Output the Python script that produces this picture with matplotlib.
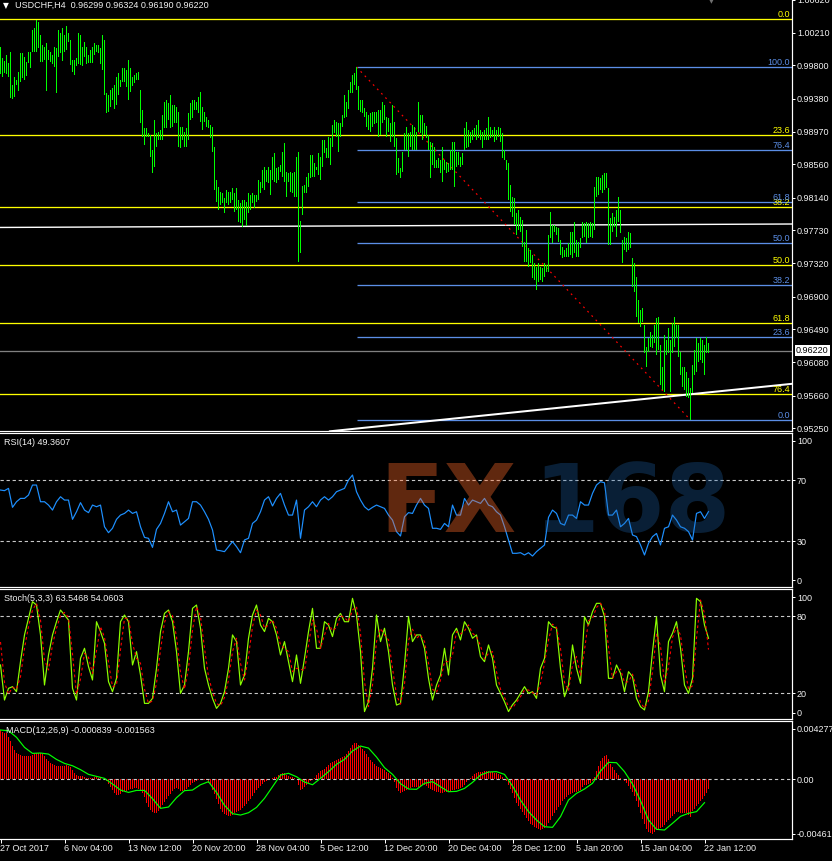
import numpy as np
import matplotlib
matplotlib.use('Agg')
import matplotlib.pyplot as plt
import matplotlib.transforms as mtrans
from matplotlib import font_manager

# ---------------- data ----------------
price_high = [
1.00035,0.99889,0.99855,0.99930,0.99826,0.99972,0.99554,0.99659,0.99617,0.99721,
0.99951,0.99951,0.99909,0.99847,0.99972,0.99972,1.00244,1.00265,1.00369,1.00348,
1.00181,1.00056,1.00035,1.00077,0.99993,0.99972,0.99930,1.00035,1.00014,1.00244,
1.00202,1.00265,1.00181,1.00294,1.00202,1.00118,0.99868,0.99868,0.99889,1.00202,
1.00181,1.00035,1.00098,1.00035,0.99930,0.99993,1.00035,1.00077,1.00056,1.00056,
1.00014,1.00181,1.00118,0.99450,0.99429,0.99491,0.99512,0.99554,0.99659,0.99700,
0.99617,0.99763,0.99763,0.99742,0.99868,0.99763,0.99659,0.99680,0.99700,0.99721,
0.99491,0.99241,0.99011,0.99011,0.98948,0.98927,0.98739,0.99115,0.98948,0.98969,
0.98990,0.99178,0.99345,0.99366,0.99324,0.99429,0.99303,0.99303,0.99282,0.99220,
0.99032,0.99032,0.98969,0.99011,0.99199,0.99324,0.99366,0.99366,0.99345,0.99408,
0.99471,0.99282,0.99220,0.99157,0.99115,0.99053,0.99032,0.98781,0.98363,0.98279,
0.98217,0.98196,0.98133,0.98237,0.98217,0.98217,0.98258,0.98196,0.98258,0.98112,
0.98070,0.98112,0.98112,0.98091,0.98196,0.98175,0.98196,0.98175,0.98175,0.98363,
0.98342,0.98488,0.98530,0.98488,0.98530,0.98488,0.98655,0.98697,0.98509,0.98530,
0.98551,0.98718,0.98823,0.98467,0.98446,0.98467,0.98446,0.98467,0.98655,0.98718,
0.97853,0.98288,0.98300,0.98405,0.98446,0.98676,0.98676,0.98572,0.98530,0.98697,
0.98655,0.98864,0.98864,0.98760,0.98906,0.98885,0.99053,0.99115,0.99094,0.99073,
0.99073,0.99178,0.99429,0.99345,0.99491,
0.99596,0.99680,0.99700,0.99776,0.99542,0.99366,0.99366,0.99262,0.99220,0.99178,
0.99199,0.99220,0.99220,0.99220,0.99241,0.99241,0.99345,0.99303,0.99157,0.99136,
0.99073,0.99303,0.99094,0.98885,0.98635,0.98509,0.98718,0.98948,0.99032,0.98948,
0.98969,0.99053,0.99032,0.98969,0.99345,0.99178,0.99178,0.99073,0.99040,0.98927,
0.98844,0.98823,0.98781,0.98614,0.98635,0.98614,0.98781,0.98614,0.98593,0.98572,
0.98739,0.98844,0.98844,0.98718,0.98718,0.98655,0.98697,0.99011,0.99094,0.98990,
0.98969,0.98990,0.99011,0.99053,0.99115,0.98990,0.98969,0.98990,0.99011,0.99157,
0.99032,0.98990,0.99032,0.98990,0.99032,0.99011,0.98948,0.98739,0.98614,0.98572,
0.98300,0.98154,0.98133,0.97945,0.97987,0.97903,0.97861,0.97590,0.97736,0.97506,
0.97485,0.97422,0.97318,0.97276,0.97318,0.97276,0.97255,0.97318,0.97297,0.97673,
0.97966,0.97799,0.97799,0.97778,0.97757,0.97610,0.97527,0.97485,0.97506,0.97569,
0.97715,0.97715,0.97840,0.97610,0.97590,0.97631,0.97840,0.97819,0.97840,0.97819,
0.97840,0.97819,0.98279,0.98405,0.98405,0.98384,0.98426,0.98446,0.98446,0.98258,
0.97882,0.97945,0.97903,0.97987,0.98154,0.97987,0.97610,0.97652,0.97631,0.97715,
0.97694,0.97381,0.97318,0.97151,0.96858,0.96733,0.96754,0.96545,0.96273,0.96377,
0.96461,0.96419,0.96545,0.96628,0.96649,0.96294,0.96022,0.96419,0.96356,0.96503,
0.96356,0.96565,0.96649,0.96545,0.96545,0.96210,0.96022,0.96022,0.95959,0.95876,
0.95750,0.96043,0.96231,0.96377,0.96315,
0.96378,0.96357,0.96294,0.96391,0.96324]

price_low = [
0.99692,0.99650,0.99700,0.99692,0.99659,0.99387,0.99379,0.99408,0.99554,0.99483,
0.99596,0.99638,0.99617,0.99671,0.99826,0.99763,0.99972,0.99972,0.99972,1.00014,
0.99847,0.99847,0.99868,0.99483,0.99868,0.99847,0.99817,0.99784,0.99458,0.99909,
0.99951,0.99855,0.99972,0.99993,1.00098,0.99805,0.99721,0.99680,0.99792,0.99813,
0.99805,0.99797,0.99909,0.99813,0.99826,0.99826,0.99826,0.99930,0.99972,0.99951,
0.99813,0.99742,0.99429,0.99207,0.99220,0.99282,0.99366,0.99249,0.99303,0.99429,
0.99525,0.99596,0.99596,0.99533,0.99366,0.99471,0.99542,0.99575,0.99617,0.99617,
0.99073,0.98906,0.98802,0.98906,0.98906,0.98655,0.98455,0.98530,0.98781,0.98864,
0.98864,0.98864,0.99011,0.99011,0.99115,0.99011,0.99032,0.99073,0.99073,0.98781,
0.98760,0.98864,0.98781,0.98781,0.98864,0.99115,0.99136,0.99241,0.99241,0.99199,
0.99094,0.98990,0.99094,0.99032,0.99011,0.98885,0.98718,0.98237,0.98091,0.97987,
0.98049,0.98070,0.97945,0.98070,0.98049,0.98070,0.98112,0.97966,0.97987,0.97840,
0.97819,0.97778,0.97861,0.97786,0.97945,0.97987,0.98070,0.98008,0.98091,0.98112,
0.98204,0.98258,0.98237,0.98342,0.98321,0.98175,0.98363,0.98342,0.98321,0.98363,
0.98467,0.98405,0.98342,0.98154,0.98342,0.98217,0.98196,0.98154,0.98154,0.97339,
0.97443,0.97924,0.98196,0.98196,0.98279,0.98384,0.98405,0.98405,0.98488,0.98426,
0.98363,0.98530,0.98697,0.98635,0.98635,0.98551,0.98781,0.98948,0.98906,0.98718,
0.98906,0.99032,0.99136,0.99157,0.99250,
0.99450,0.99450,0.99554,0.99491,0.99241,0.99220,0.99199,0.99157,0.99032,0.98990,
0.98969,0.99032,0.99065,0.99073,0.98898,0.98927,0.99073,0.99115,0.98898,0.98969,
0.98844,0.98906,0.98781,0.98426,0.98446,0.98384,0.98467,0.98739,0.98739,0.98655,
0.98781,0.98739,0.98739,0.98739,0.98969,0.98948,0.98864,0.98927,0.98885,0.98739,
0.98384,0.98551,0.98509,0.98509,0.98509,0.98446,0.98342,0.98488,0.98446,0.98467,
0.98488,0.98488,0.98279,0.98530,0.98551,0.98530,0.98551,0.98739,0.98760,0.98781,
0.98823,0.98864,0.98906,0.98864,0.98885,0.98864,0.98760,0.98864,0.98864,0.98864,
0.98885,0.98906,0.98844,0.98864,0.98906,0.98844,0.98635,0.98614,0.98488,0.98112,
0.97966,0.97903,0.97799,0.97673,0.97736,0.97715,0.97527,0.97339,0.97339,0.97276,
0.97318,0.97130,0.97109,0.96983,0.97088,0.97109,0.97088,0.97151,0.97213,0.97213,
0.97631,0.97569,0.97715,0.97673,0.97590,0.97422,0.97381,0.97401,0.97401,0.97401,
0.97422,0.97381,0.97443,0.97401,0.97401,0.97506,0.97631,0.97652,0.97569,0.97631,
0.97652,0.97631,0.97736,0.98154,0.98175,0.98237,0.98196,0.98237,0.98258,0.97548,
0.97548,0.97715,0.97778,0.97652,0.97840,0.97694,0.97318,0.97485,0.97464,0.97485,
0.97506,0.97025,0.96963,0.96649,0.96565,0.96524,0.96586,0.96189,0.96022,0.96210,
0.96273,0.96252,0.96315,0.96168,0.96231,0.95792,0.95729,0.95709,0.96168,0.96189,
0.95709,0.96189,0.96273,0.96377,0.96147,0.95918,0.95771,0.95729,0.95646,0.95625,
0.95353,0.95688,0.95918,0.95959,0.96085,
0.96106,0.96065,0.95918,0.96190,0.96190]

time_labels = ["27 Oct 2017", "6 Nov 04:00", "13 Nov 12:00", "20 Nov 20:00",
               "28 Nov 04:00", "5 Dec 12:00", "12 Dec 20:00", "20 Dec 04:00",
               "28 Dec 12:00", "5 Jan 20:00", "15 Jan 04:00", "22 Jan 12:00"]
price_ticks = [1.00620, 1.00210, 0.99800, 0.99380, 0.98970, 0.98560, 0.98140,
               0.97730, 0.97320, 0.96900, 0.96490, 0.96080, 0.95660, 0.95250]
last_price = 0.96220

# Fibonacci retracements (anchors) and levels
fib_yellow_0 = 1.00382
fib_yellow_100 = 0.94219
fib_yellow_levels = [0.0, 23.6, 38.2, 50.0, 61.8, 76.4]
fib_blue_high = 0.99780
fib_blue_low = 0.95354
fib_blue_start_bar = 178
fib_blue_end_bar = 345
fib_blue_levels = [100.0, 76.4, 61.8, 50.0, 38.2, 23.6, 0.0]

# trend lines (bar index, price)
trend_upper = [(0, 0.97768), (330, 0.97804)]
trend_lower = [(167.8, 0.95220), (349.8, 0.95689)]

rsi = [63.6,63.2,64.7,52.2,55.9,58.1,58.1,60.3,66.9,66.9,
55.9,55.9,53.7,50.4,55.9,59.2,57.0,57.0,44.3,49.3,
55.3,50.4,48.7,53.7,52.6,53.7,39.4,35.5,38.4,44.3,
47.1,48.2,50.4,48.2,49.3,39.4,32.4,31.8,25.8,37.7,
41.6,48.2,55.9,49.3,50.4,40.5,42.7,44.9,55.9,55.9,
53.7,49.3,44.3,37.3,24.1,23.6,23.0,26.3,29.6,26.3,
22.3,30.7,31.8,41.6,43.8,49.3,57.0,59.2,53.1,58.1,
61.4,53.7,47.1,47.1,57.0,31.8,50.4,52.6,55.9,52.6,
57.0,59.2,57.0,59.2,62.5,63.6,64.7,70.2,73.5,62.5,
57.0,52.6,50.4,52.2,53.7,52.6,51.5,47.1,43.8,36.2,
33.3,46.0,48.7,48.2,53.7,
58.1,53.7,51.5,38.4,38.4,37.7,41.6,39.4,53.7,47.1,
47.1,58.1,53.7,57.0,55.9,54.8,58.1,53.7,52.6,49.3,
47.1,39.4,30.7,21.9,21.9,22.3,20.8,22.3,20.1,23.0,
25.2,27.4,45.6,50.4,48.2,41.6,40.5,47.1,47.1,44.9,
55.9,53.7,53.7,61.4,66.9,69.1,68.4,47.1,47.1,50.4,
39.4,41.6,44.9,34.0,32.9,27.4,20.8,28.5,32.9,35.0,
27.4,38.4,39.4,47.1,43.8,39.4,38.4,36.2,30.7,48.2,
49.3,44.9,49.4]

stoch_k = [42.1,14.8,23.9,25.2,21.3,44.7,65.5,78.4,91.4,88.8,
65.5,26.5,49.9,65.5,75.8,84.9,81.0,77.1,23.9,14.8,
47.3,55.1,40.8,30.4,75.8,68.1,59.0,29.1,21.3,31.7,
75.8,81.0,75.8,42.1,52.5,34.3,12.2,12.2,16.1,39.5,
68.1,82.3,84.9,75.8,52.5,20.0,26.5,52.5,86.2,88.8,
70.7,39.5,26.5,16.1,8.3,12.2,21.3,39.5,65.5,60.3,
26.5,34.3,62.9,81.0,88.8,73.2,68.1,78.4,75.8,65.5,
49.9,60.3,44.7,29.1,49.9,27.8,47.3,68.1,86.2,55.1,
55.1,75.8,73.2,64.2,78.4,82.3,75.8,75.8,94.0,81.0,
52.5,5.8,13.5,39.5,81.0,60.3,70.7,52.5,26.5,10.9,
12.2,42.1,79.7,60.3,65.5,
65.5,55.1,31.7,14.8,26.5,34.3,55.1,34.3,65.5,70.7,
61.6,75.8,70.7,62.9,65.5,48.6,44.7,57.7,47.3,26.5,
20.0,13.5,5.8,11.1,14.8,20.0,25.2,20.0,21.3,16.1,
39.5,47.3,75.8,72.0,70.7,39.5,17.4,26.5,57.7,39.5,
27.8,79.7,73.2,83.6,90.1,90.1,79.7,31.7,31.7,42.1,
35.6,21.3,36.9,33.0,16.1,9.6,7.1,21.3,52.5,79.7,
34.3,21.3,60.3,66.8,75.8,55.1,26.5,20.0,31.7,94.0,
91.4,73.2,62.9]

stoch_d = [60.0,28.5,19.4,24.6,23.3,33.0,55.1,72.0,84.9,90.1,
77.2,46.0,38.2,57.7,70.7,80.4,83.0,79.1,50.5,19.4,
31.1,51.2,48.0,35.6,53.1,72.0,63.6,44.1,25.2,26.5,
53.8,78.4,78.4,59.0,47.3,43.4,23.3,12.2,14.2,27.8,
53.8,75.2,83.6,80.4,64.2,36.3,23.3,39.5,69.4,87.5,
79.8,55.1,33.0,21.3,12.2,10.3,16.8,30.4,52.5,62.9,
43.4,30.4,48.6,72.0,84.9,81.0,70.7,73.3,77.1,70.7,
57.7,55.1,52.5,36.9,39.5,38.9,37.6,57.7,77.2,70.7,
55.1,65.5,74.5,68.7,71.3,80.4,79.1,75.8,84.9,87.5,
66.8,29.2,9.7,26.5,60.3,70.7,65.5,61.6,39.5,18.7,
11.6,27.2,60.9,70.0,62.9,
65.5,60.3,43.4,23.3,20.7,30.4,44.7,44.7,49.9,68.1,
66.2,68.7,73.3,66.8,64.2,57.1,46.7,51.2,52.5,36.9,
23.3,16.8,9.7,8.5,13.0,17.4,22.6,22.6,20.7,18.7,
27.8,43.4,61.6,73.9,71.4,55.1,28.5,22.0,42.1,48.6,
33.7,53.8,76.5,78.4,86.9,90.1,84.9,55.7,31.7,36.9,
38.9,28.5,29.1,35.0,24.6,12.9,8.4,14.2,36.9,66.1,
57.0,27.8,40.8,63.6,71.3,65.5,40.8,23.3,25.9,62.9,
92.7,82.3,54.1]

# MACD main (histogram), in units of 1e-4
macd_main_e4 = [42.0,40.5,39.5,38.9,36.1,32.7,28.2,24.8,22.3,21.4,
20.6,20.0,19.7,19.7,19.7,19.7,20.3,21.1,22.0,22.0,
22.0,21.1,19.4,17.2,15.5,13.8,12.7,11.8,11.3,11.3,
11.3,11.3,11.5,12.1,11.5,10.1,7.9,5.6,3.9,3.1,
2.8,2.5,1.7,0.8,0.8,0.8,1.4,1.7,1.7,1.4,
0.8,0.3,-0.6,-1.7,-4.0,-6.5,-9.1,-11.3,-13.0,-13.0,
-12.2,-11.0,-10.2,-9.6,-9.1,-8.5,-7.9,-7.7,-7.7,-8.2,
-9.6,-11.9,-15.3,-19.8,-23.2,-26.3,-28.0,-28.8,-28.3,-26.6,
-24.3,-21.8,-19.2,-16.7,-14.4,-12.2,-10.2,-8.5,-7.7,-8.5,
-9.6,-9.6,-9.1,-7.9,-6.3,-4.6,-3.4,-2.3,-1.4,-0.6,
0.0,0.0,-0.3,-0.8,-2.9,-5.1,-8.8,-12.5,-16.7,-20.9,
-24.9,-27.7,-29.4,-30.5,-30.8,-30.8,-30.0,-28.8,-27.7,-26.9,
-25.7,-24.3,-22.6,-20.7,-18.7,-16.7,-14.4,-11.9,-9.4,-7.4,
-5.4,-3.7,-2.3,-1.2,-0.6,0.0,1.1,1.9,2.2,3.4,
4.8,5.6,5.1,3.9,2.8,2.2,1.9,1.1,0.3,-4.8,
-9.1,-8.2,-6.8,-5.1,-3.4,-1.7,-0.6,0.8,3.4,5.6,
7.3,8.2,9.0,10.4,12.1,13.5,14.7,15.2,16.3,17.2,
18.0,18.9,20.0,21.7,24.0,26.5,29.3,30.5,30.5,29.1,
27.4,25.7,23.7,21.1,18.9,16.6,14.7,13.0,11.5,10.4,
9.3,8.4,7.6,6.5,5.1,3.4,1.1,-2.3,-7.1,-10.2,
-11.9,-11.0,-10.2,-9.4,-8.5,-7.7,-6.8,-6.3,-6.3,-6.3,
-6.3,-5.1,-5.1,-6.0,-7.1,-7.9,-8.8,-9.6,-10.5,-11.0,
-11.3,-11.3,-11.0,-10.5,-9.9,-9.6,-9.1,-8.8,-8.5,-7.9,
-7.7,-6.5,-5.1,-2.3,-0.6,1.1,2.8,4.2,5.1,5.9,
6.5,6.5,6.8,7.3,7.0,6.5,5.9,5.6,5.1,4.5,
3.6,2.2,0.5,-1.7,-4.8,-8.2,-11.6,-15.6,-19.8,-22.6,
-24.9,-27.7,-30.3,-32.8,-35.1,-37.6,-39.0,-40.2,-41.3,-42.4,
-43.0,-42.1,-41.0,-39.9,-37.0,-34.2,-31.4,-28.8,-26.3,-23.8,
-21.5,-18.7,-16.7,-15.0,-13.6,-12.5,-11.6,-11.0,-10.5,-9.9,
-9.1,-6.3,-4.8,-4.8,-4.3,-3.4,-1.7,2.2,7.0,11.3,
15.2,18.3,20.0,20.6,16.9,13.3,10.7,7.9,5.6,3.4,
1.4,0.0,-1.4,-3.1,-5.4,-7.9,-10.5,-14.2,-18.4,-23.2,
-28.3,-33.4,-38.2,-42.4,-44.7,-45.8,-46.1,-45.0,-43.3,-42.1,
-41.3,-40.2,-38.5,-36.2,-34.5,-32.8,-31.1,-29.4,-27.7,-27.7,
-28.3,-28.6,-28.8,-28.8,-30.0,-31.7,-27.2,-24.9,-22.9,-20.9,
-18.7,-16.7,-13.9,-11.3,-8.4]

# MACD signal, every 4th bar, in units of 1e-4
macd_signal_e4 = [41.8,41.2,35.6,27.1,22.0,22.3,21.4,16.9,13.5,11.5,
8.2,4.2,2.5,0.8,-4.0,-9.1,-11.1,-9.4,-9.4,-16.4,
-24.6,-23.5,-15.6,-9.6,-9.1,-4.6,-2.0,-11.1,-22.1,-29.1,
-30.3,-28.3,-23.8,-16.1,-6.3,3.6,5.1,2.2,-2.3,-4.6,
0.8,6.5,12.7,16.9,24.0,28.2,26.5,18.9,9.9,4.2,
-3.7,-8.2,-8.5,
-3.4,-2.0,-6.3,-10.5,-10.2,-7.7,-2.6,3.6,6.2,6.5,
4.2,-5.7,-17.6,-27.4,-34.5,-40.2,-40.7,-31.7,-17.6,-11.9,
-8.2,-3.4,7.0,14.4,14.1,6.5,-4.0,-18.1,-34.5,-42.4,
-43.0,-37.3,-31.4,-28.8,-27.4,-19.8]

macd_axis_labels = [0.004277, 0.0, -0.00461]

# ---------------- fonts ----------------
_names = {f.name for f in font_manager.fontManager.ttflist}
if 'Liberation Sans Narrow' in _names:
    FONT, FS = 'Liberation Sans Narrow', 7.7
else:
    FONT, FS = 'Liberation Sans', 6.5
plt.rcParams['font.family'] = [FONT, 'DejaVu Sans']
plt.rcParams['font.size'] = FS

W, H = 832, 861
AXR = 792
fig = plt.figure(figsize=(W / 100, H / 100), dpi=100, facecolor='black')

TXT = '#F2F2F2'
GRID = '#C8C8C8'
PX = 0.72  # one pixel in points


def pane(top, bottom, show_top=True):
    ax = fig.add_axes([0, 1 - bottom / H, AXR / W, (bottom - top) / H])
    ax.set_facecolor('black')
    ax.set_xlim(-0.25, 395.75)
    ax.spines['left'].set_visible(False)
    for s in ['right', 'bottom', 'top']:
        ax.spines[s].set_color('white')
        ax.spines[s].set_linewidth(PX * 1.2)
    ax.spines['top'].set_visible(show_top)
    ax.yaxis.tick_right()
    ax.tick_params(axis='y', colors='white', length=3 * PX, width=PX,
                   pad=2 * PX, labelsize=FS, labelcolor=TXT)
    ax.tick_params(axis='x', bottom=False, labelbottom=False)
    return ax


bars = np.arange(len(price_high))
hi = np.array(price_high)
lo = np.array(price_low)

# ---------------- price pane ----------------
axp = pane(0, 431.3, show_top=False)
axp.set_ylim(0.95212, 1.00620)
blend = mtrans.blended_transform_factory(axp.transAxes, axp.transData)

for lvl in fib_yellow_levels:
    p = fib_yellow_0 - lvl / 100 * (fib_yellow_0 - fib_yellow_100)
    axp.axhline(p, color='#FFFF00', lw=PX * 1.3, zorder=2)
    tr = mtrans.offset_copy(blend, fig=fig, x=-2, y=2, units='dots')
    axp.text(1.0, p, f'{lvl:.1f}', transform=tr, ha='right', va='baseline',
             color='#FFFF00', fontsize=FS, zorder=5)

for lvl in fib_blue_levels:
    p = fib_blue_low + lvl / 100 * (fib_blue_high - fib_blue_low)
    axp.hlines(p, fib_blue_start_bar, 395.75, color='#5B8EE6', lw=PX * 1.3, zorder=2)
    tr = mtrans.offset_copy(blend, fig=fig, x=-2, y=2, units='dots')
    axp.text(1.0, p, f'{lvl:.1f}', transform=tr, ha='right', va='baseline',
             color='#5B8EE6', fontsize=FS, zorder=5)

axp.axhline(last_price, color='#808080', lw=PX * 1.3, zorder=2)
axp.axline(trend_upper[0], trend_upper[1], color='white', lw=PX * 1.4, zorder=3)
axp.axline(trend_lower[0], trend_lower[1], color='white', lw=PX * 2.0, zorder=3)
axp.plot([fib_blue_start_bar, fib_blue_end_bar], [fib_blue_high, fib_blue_low],
         color='#FF0000', lw=PX * 1.2, ls=(0, (1.5, 3.5)), zorder=4)

# OHLC bars as thin high-low rectangles
axp.bar(bars, hi - lo, bottom=lo, width=0.55, color='#00FF00', linewidth=0, zorder=4)

axp.set_yticks(price_ticks)
axp.set_yticklabels([f'{v:.5f}' for v in price_ticks])
axp.set_xticks([])

tr = mtrans.offset_copy(blend, fig=fig, x=4, y=0, units='dots')
axp.text(1.0, last_price, f'{last_price:.5f}', transform=tr, ha='left', va='center',
         color='black', fontsize=FS, zorder=6, clip_on=False,
         bbox=dict(boxstyle='square,pad=0.12', fc='white', ec='none'))

fig.text(3 / W, 1 - 5.2 / H, '\u25BC', color='white', fontsize=5.5,
         family='DejaVu Sans', va='center', ha='left')
fig.text(15 / W, 1 - 5.5 / H, 'USDCHF,H4  0.96299 0.96324 0.96190 0.96220',
         color=TXT, fontsize=FS, va='center', ha='left')
fig.text(711 / W, 1 - 1.5 / H, '\u25BC', color='#707070', fontsize=4.5,
         family='DejaVu Sans', va='center', ha='center')

# ---------------- RSI pane ----------------
axr = pane(433.3, 586.7)
axr.set_ylim(-0.1, 101)
rsi_x = np.arange(len(rsi)) * 2
axr.plot(rsi_x, rsi, color='#1E90FF', lw=PX * 1.2, zorder=3)
for lv in (70, 30):
    axr.axhline(lv, color=GRID, lw=PX * 1.1, ls=(0, (3, 2.5)), zorder=2)
axr.set_yticks([96, 70, 30, 4])
axr.set_yticklabels(['100', '70', '30', '0'])
axr.set_xticks([])
axr.text(4 / AXR, 1 - 9.5 / 153.4, 'RSI(14) 49.3607', transform=axr.transAxes,
         color=TXT, fontsize=FS, va='center', ha='left')

# ---------------- Stochastic pane ----------------
axs = pane(588.7, 719.3)
axs.set_ylim(-0.2, 101.5)
st_x = np.arange(len(stoch_k)) * 2
axs.plot(st_x, stoch_k, color='#8CFF00', lw=PX * 1.2, zorder=3)
axs.plot(st_x, stoch_d, color='#FF0000', lw=PX * 1.1, ls=(0, (2.5, 2.5)), zorder=4)
for lv in (80, 20):
    axs.axhline(lv, color=GRID, lw=PX * 1.1, ls=(0, (3, 2.5)), zorder=2)
axs.set_yticks([95, 80, 20, 5])
axs.set_yticklabels(['100', '80', '20', '0'])
axs.set_xticks([])
axs.text(4 / AXR, 1 - 9.6 / 130.6, 'Stoch(5,3,3) 63.5468 54.0603', transform=axs.transAxes,
         color=TXT, fontsize=FS, va='center', ha='left', zorder=6)

# ---------------- MACD pane ----------------
axm = pane(721.3, 839)
axm.set_ylim(-0.00506, 0.00492)
macd_vals = np.array(macd_main_e4) * 1e-4
axm.bar(np.arange(len(macd_vals)), macd_vals, width=0.55, color='#FF0000',
        linewidth=0, zorder=3)
axm.axhline(0, color=GRID, lw=PX * 1.1, ls=(0, (3, 2.5)), zorder=4)
sig_x = np.arange(len(macd_signal_e4)) * 4
axm.plot(sig_x, np.array(macd_signal_e4) * 1e-4, color='#00FF00', lw=PX * 1.2, zorder=5)
axm.set_yticks(macd_axis_labels)
axm.set_yticklabels(['0.004277', '0.00', '-0.00461'])
axm.text(6 / AXR, 1 - 9.5 / 117.7, 'MACD(12,26,9) -0.000839 -0.001563', transform=axm.transAxes,
         color=TXT, fontsize=FS, va='center', ha='left', zorder=6)

tick_pos = np.arange(len(time_labels)) * 32
axm.set_xticks(tick_pos)
axm.set_xticklabels(time_labels)
axm.tick_params(axis='x', bottom=True, labelbottom=True, direction='out',
                length=4 * PX, width=PX, colors='white', labelcolor=TXT,
                labelsize=FS, pad=0.5)
for lab in axm.get_xticklabels():
    lab.set_ha('left')

# ---------------- watermark ----------------
fig.text(379 / W, 1 - 532 / H, 'FX', color='#FF6A2A', alpha=0.38, fontsize=68,
         fontweight='bold', family='DejaVu Sans', va='baseline', ha='left', zorder=10)
fig.text(533 / W, 1 - 532 / H, '168', color='#1F6AB4', alpha=0.30, fontsize=68,
         fontweight='bold', family='DejaVu Sans', va='baseline', ha='left', zorder=10)

fig.savefig('out.png', dpi=100, facecolor='black')
